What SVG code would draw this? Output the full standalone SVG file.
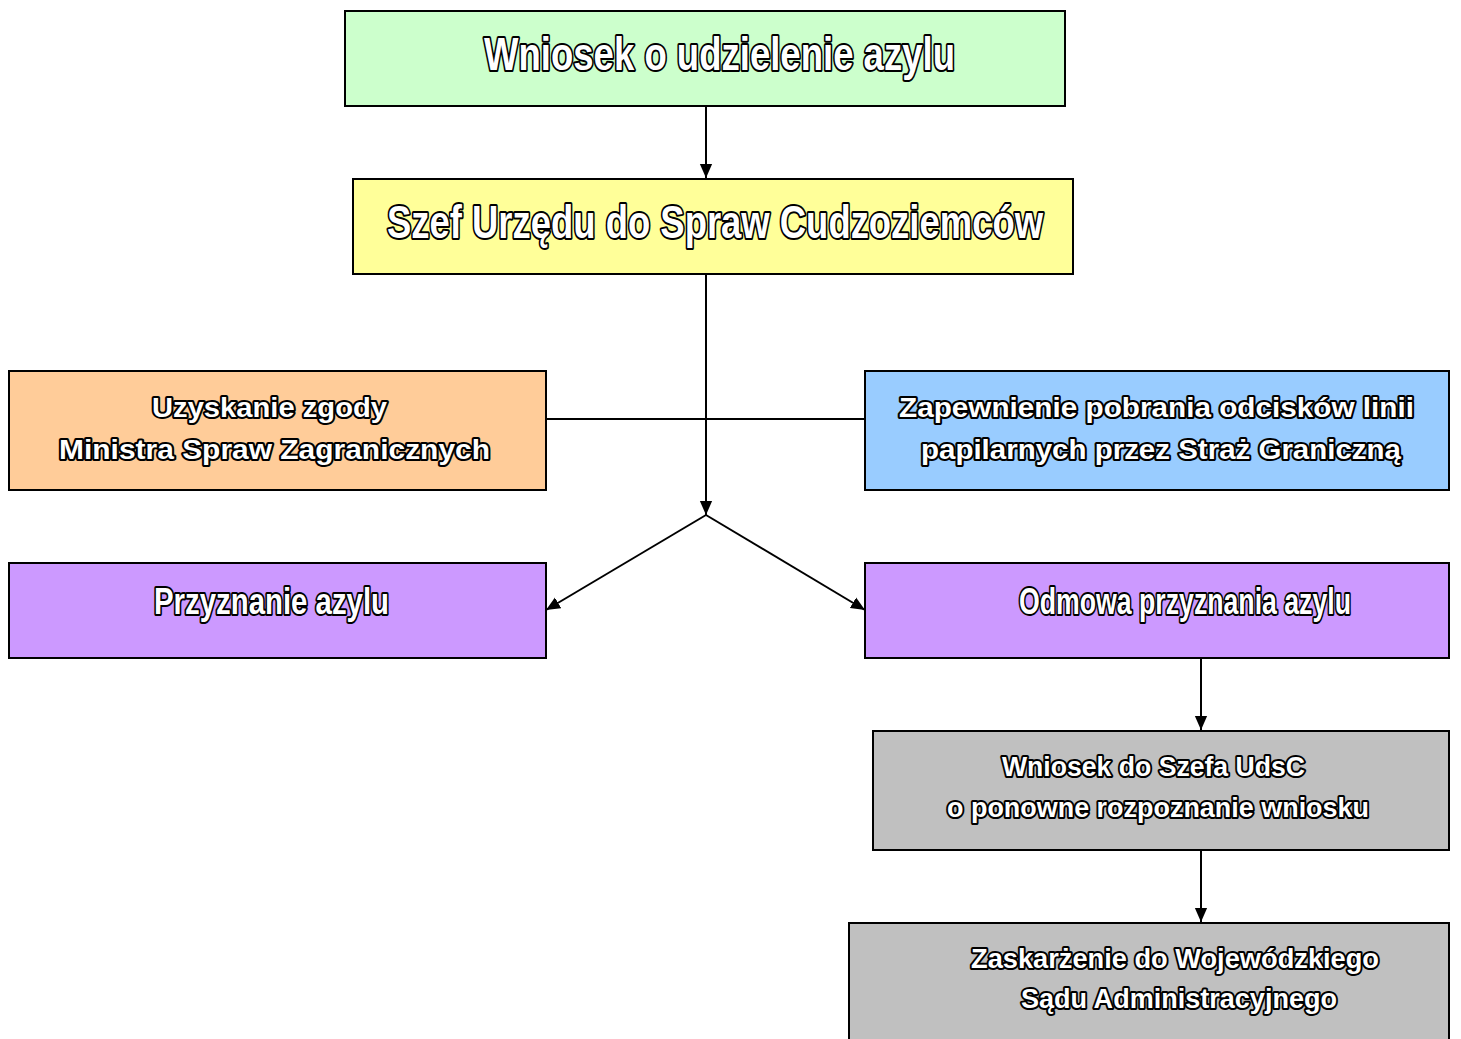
<svg xmlns="http://www.w3.org/2000/svg" width="1461" height="1039" viewBox="0 0 1461 1039">
<defs>
<marker id="arr" markerUnits="userSpaceOnUse" markerWidth="14" markerHeight="14" viewBox="0 0 16 14" refX="16" refY="7" orient="auto">
<path d="M0,0 L16,7 L0,14 z" fill="#000"/>
</marker>
<style>
.box{stroke:#000;stroke-width:2}
.t{font-family:"Liberation Sans",Arial,sans-serif;font-weight:bold;fill:#fff;stroke:#000;stroke-width:4;stroke-linejoin:round;paint-order:stroke;text-anchor:middle}
.big{font-size:46px}
.mid{font-size:36px}
.sm{font-size:28px}
.c{fill:none;stroke:#000;stroke-width:2}
</style>
</defs>
<rect width="1461" height="1039" fill="#fff"/>
<g id="connectors">
<line class="c" x1="706" y1="106" x2="706" y2="178" marker-end="url(#arr)"/>
<line class="c" x1="706" y1="274" x2="706" y2="515" marker-end="url(#arr)"/>
<line class="c" x1="546" y1="419" x2="865" y2="419"/>
<line class="c" x1="706" y1="515" x2="546" y2="610" marker-end="url(#arr)"/>
<line class="c" x1="706" y1="515" x2="865" y2="610" marker-end="url(#arr)"/>
<line class="c" x1="1201" y1="658" x2="1201" y2="730" marker-end="url(#arr)"/>
<line class="c" x1="1201" y1="850" x2="1201" y2="922" marker-end="url(#arr)"/>
</g>
<g id="wniosek">
<rect class="box" x="345" y="11" width="720" height="95" fill="#CCFFCC"/>
<text class="t big" x="719.5" y="70" textLength="471" lengthAdjust="spacingAndGlyphs">Wniosek o udzielenie azylu</text>
</g>
<g id="szef">
<rect class="box" x="353" y="179" width="720" height="95" fill="#FFFF99"/>
<text class="t big" x="715" y="238" textLength="656" lengthAdjust="spacingAndGlyphs">Szef Urzędu do Spraw Cudzoziemców</text>
</g>
<g id="zgoda">
<rect class="box" x="9" y="371" width="537" height="119" fill="#FFCC99"/>
<text class="t sm" x="269.5" y="417" textLength="235" lengthAdjust="spacingAndGlyphs">Uzyskanie zgody</text>
<text class="t sm" x="274.5" y="459" textLength="431" lengthAdjust="spacingAndGlyphs">Ministra Spraw Zagranicznych</text>
</g>
<g id="odciski">
<rect class="box" x="865" y="371" width="584" height="119" fill="#99CCFF"/>
<text class="t sm" x="1156.5" y="417" textLength="515" lengthAdjust="spacingAndGlyphs">Zapewnienie pobrania odcisków linii</text>
<text class="t sm" x="1161" y="459" textLength="480" lengthAdjust="spacingAndGlyphs">papilarnych przez Straż Graniczną</text>
</g>
<g id="przyznanie">
<rect class="box" x="9" y="563" width="537" height="95" fill="#CC99FF"/>
<text class="t mid" x="271.5" y="614" textLength="235" lengthAdjust="spacingAndGlyphs">Przyznanie azylu</text>
</g>
<g id="odmowa">
<rect class="box" x="865" y="563" width="584" height="95" fill="#CC99FF"/>
<text class="t mid" x="1185" y="614" textLength="332" lengthAdjust="spacingAndGlyphs">Odmowa przyznania azylu</text>
</g>
<g id="ponowne">
<rect class="box" x="873" y="731" width="576" height="119" fill="#C0C0C0"/>
<text class="t sm" x="1153.5" y="776" textLength="303" lengthAdjust="spacingAndGlyphs">Wniosek do Szefa UdsC</text>
<text class="t sm" x="1158" y="817" textLength="422" lengthAdjust="spacingAndGlyphs">o ponowne rozpoznanie wniosku</text>
</g>
<g id="zaskarzenie">
<rect class="box" x="849" y="923" width="600" height="130" fill="#C0C0C0"/>
<text class="t sm" x="1175" y="968" textLength="408" lengthAdjust="spacingAndGlyphs">Zaskarżenie do Wojewódzkiego</text>
<text class="t sm" x="1179" y="1008" textLength="316" lengthAdjust="spacingAndGlyphs">Sądu Administracyjnego</text>
</g>
</svg>
